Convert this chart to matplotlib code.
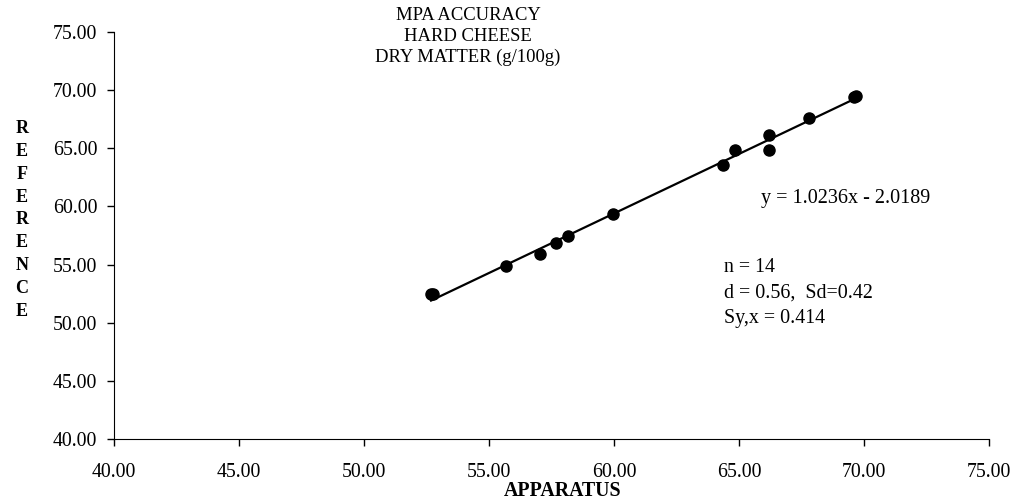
import numpy as np
import matplotlib
matplotlib.use("Agg")
import matplotlib.pyplot as plt

# values
apparatus = [52.68, 52.76, 55.69, 57.05, 57.69, 58.17, 59.94,
             64.36, 64.85, 66.18, 66.18, 67.78, 69.58, 69.66]
reference = [52.47, 52.50, 54.92, 55.93, 56.88, 57.46, 59.33,
             63.57, 64.89, 64.85, 66.15, 67.63, 69.45, 69.48]

slope = 1.0236
intercept = -2.0189

title_lines = ["MPA ACCURACY", "HARD CHEESE", "DRY MATTER (g/100g)"]
stats_lines = ["n = 14", "d = 0.56,  Sd=0.42", "Sy,x = 0.414"]
ticks = [40, 45, 50, 55, 60, 65, 70, 75]

plt.rcParams["font.family"] = ["Liberation Serif", "DejaVu Serif"]

fig = plt.figure(figsize=(10.12, 4.99), dpi=100)
ax = fig.add_axes([0.1127, 0.1202, 0.8646, 0.8157])

ax.plot(apparatus, reference, "o", color="black", ms=8, zorder=3)

# trend line over the data range
xs = np.array([min(apparatus), max(apparatus)])
ax.plot(xs, slope * xs + intercept, color="black", lw=1.6, zorder=2)

ax.set_xlim(40, 75)
ax.set_ylim(40, 75)
ax.set_xticks(ticks)
ax.set_yticks(ticks)
ax.set_xticklabels([f"{t:.2f}" for t in ticks])
ax.set_yticklabels([f"{t:.2f}" for t in ticks])
ax.tick_params(direction="out", length=5, width=1, labelsize=14.3, colors="black")
ax.tick_params(axis="y", pad=7)
ax.tick_params(axis="x", pad=12)
ax.spines["top"].set_visible(False)
ax.spines["right"].set_visible(False)

for i, line in enumerate(title_lines):
    fig.text(0.4625, 1 - (16 + i * 20.5) / 499, line, ha="center", va="center", fontsize=13.4)

ax.text(65.88, 60.7, f"y = {slope}x - {abs(intercept)}", fontsize=14.5, va="center")
for i, line in enumerate(stats_lines):
    fig.text(724 / 1012, 1 - (268 + i * 25.5) / 499, line, fontsize=14.4, va="center")

fig.text(563 / 1012, 1 - 491 / 499, "APPARATUS", ha="center", va="center",
         fontsize=14.3, fontweight="bold")
for i, ch in enumerate("REFERENCE"):
    fig.text(22 / 1012, 1 - (129 + i * 22.75) / 499, ch, ha="center", va="center",
             fontsize=13, fontweight="bold")

fig.savefig("out.png", dpi=100, facecolor="white")
